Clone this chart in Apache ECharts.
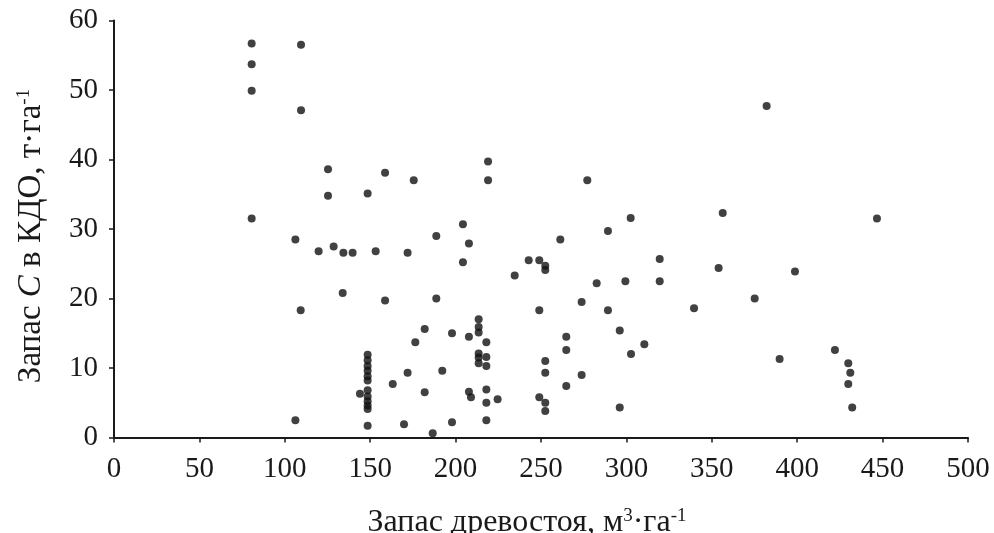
<!DOCTYPE html>
<html>
<head>
<meta charset="utf-8">
<script src="https://cdn.jsdelivr.net/npm/echarts@6/dist/echarts.min.js"></script>
<style>
    html, body { margin: 0; padding: 0; background: #fff; }
    #chart { width: 994px; height: 533px; }
</style>
</head>
<body>
<div id="chart"></div>
<script>
// Growing stock, m3/ha
const stockValues = [
    80.6, 80.6, 80.6, 80.6, 109.5, 109.5, 106.2, 109.3, 106.2,
    125.3, 125.3, 148.5, 158.7, 175.5, 204.3, 219, 219,
    119.8, 128.6, 134.3, 139.7, 153.2, 171.9, 188.7, 207.8, 204.3,
    242.8, 249.0, 252.5, 252.5, 234.6,
    133.9, 158.7, 188.7,
    213.5, 213.5, 213.5, 181.9, 197.9, 207.8, 218, 176.4,
    213.5, 213.5, 213.5, 218, 218, 192.2, 171.9, 163.2, 144,
    181.9, 207.8, 209, 218, 218, 224.6,
    148.5, 169.8, 186.6, 197.9, 218,
    148.5, 148.5, 148.5, 148.5, 148.5, 148.5, 148.5, 148.5, 148.5, 148.5, 148.5,
    261.3, 289.2, 302.5, 277.1, 282.6, 299.4, 319.5, 319.5, 354, 356.4,
    249, 273.8, 289.2, 339.6, 296.1, 264.8, 310.5, 264.8, 302.7,
    252.5, 252.5, 273.8, 264.8, 249, 252.5, 252.5, 296.1,
    382.1, 446.7, 398.7, 375.1, 422.1, 389.7, 429.9, 431.1, 429.9, 432.2
];

// Carbon stock in coarse woody debris, t/ha
const carbonValues = [
    56.7, 53.7, 49.9, 31.5, 56.5, 47.1, 28.5, 18.3, 2.5,
    38.6, 34.8, 35.1, 38.1, 37.0, 30.7, 39.7, 37.0,
    26.8, 27.5, 26.6, 26.6, 26.8, 26.6, 29.0, 27.9, 25.2,
    25.5, 25.5, 24.7, 24.1, 23.3,
    20.8, 19.7, 20.0,
    17.0, 15.9, 15.1, 15.6, 15.0, 14.5, 13.7, 13.7,
    12.1, 11.5, 10.7, 11.6, 10.3, 9.6, 9.3, 7.7, 6.3,
    6.5, 6.6, 5.8, 6.9, 5.0, 5.5,
    1.7, 1.9, 0.6, 2.2, 2.5,
    11.9, 11.1, 10.3, 9.6, 8.8, 8.2, 6.8, 5.9, 5.2, 4.6, 4.1,
    28.5, 29.7, 31.6, 37.0, 22.2, 22.5, 25.7, 22.5, 24.4, 32.3,
    18.3, 19.5, 18.3, 18.6, 15.4, 14.5, 13.4, 12.6, 12.0,
    11.0, 9.3, 9.0, 7.4, 5.8, 5.0, 3.8, 4.3,
    47.7, 31.5, 23.9, 20.0, 12.6, 11.3, 10.7, 9.3, 7.7, 4.3
];

const xTicks = [0, 500, 50];
const yTicks = [0, 60, 10];

const chart = echarts.init(document.getElementById('chart'), null, { renderer: 'canvas' });

const fontFamily = '"Liberation Serif", "Times New Roman", serif';
const axisColor = '#1a1a1a';

const options = {
    backgroundColor: '#fff',
    animation: false,
    textStyle: {
        fontFamily: fontFamily
    },
    grid: {
        left: 114,
        right: 26,
        top: 20.5,
        bottom: 95.5,
        containLabel: false,
        outerBoundsMode: 'none'
    },
    xAxis: {
        type: 'value',
        min: xTicks[0],
        max: xTicks[1],
        interval: xTicks[2],
        splitLine: { show: false },
        axisLine: {
            onZero: false,
            lineStyle: { color: axisColor, width: 2 }
        },
        axisTick: {
            show: true,
            length: 5,
            lineStyle: { color: axisColor, width: 1.5 }
        },
        axisLabel: {
            color: axisColor,
            fontSize: 29,
            fontFamily: fontFamily,
            margin: 17
        },
        name: '{t|Запас древостоя, м}{s|3}{t|·га}{s|-1}',
        nameLocation: 'middle',
        nameGap: 69,
        nameTextStyle: {
            padding: [0, 28, 0, 0],
            rich: {
                t: { fontSize: 32, fontFamily: fontFamily, color: axisColor },
                s: { fontSize: 19, fontFamily: fontFamily, color: axisColor, verticalAlign: 'top', padding: [0, 0, 11, 0] }
            }
        }
    },
    yAxis: {
        type: 'value',
        min: yTicks[0],
        max: yTicks[1],
        interval: yTicks[2],
        splitLine: { show: false },
        axisLine: {
            show: true,
            onZero: false,
            lineStyle: { color: axisColor, width: 2 }
        },
        axisTick: {
            show: true,
            length: 5,
            lineStyle: { color: axisColor, width: 1.5 }
        },
        axisLabel: {
            color: axisColor,
            fontSize: 29,
            fontFamily: fontFamily,
            margin: 16
        },
        name: '{t|Запас }{i|C}{t| в КДО, т·га}{s|-1}',
        nameLocation: 'middle',
        nameRotate: 90,
        nameGap: 66,
        nameTextStyle: {
            padding: [0, 14, 0, 0],
            rich: {
                t: { fontSize: 33, fontFamily: fontFamily, color: axisColor },
                i: { fontSize: 33, fontFamily: fontFamily, fontStyle: 'italic', color: axisColor },
                s: { fontSize: 19, fontFamily: fontFamily, color: axisColor, verticalAlign: 'top', padding: [0, 0, 11, 0] }
            }
        }
    },
    series: [
        {
            type: 'scatter',
            symbol: 'circle',
            symbolSize: 8,
            itemStyle: { color: '#111' },
            data: stockValues.map((x, i) => [x, carbonValues[i]])
        }
    ]
};

chart.setOption(options);
</script>
</body>
</html>
